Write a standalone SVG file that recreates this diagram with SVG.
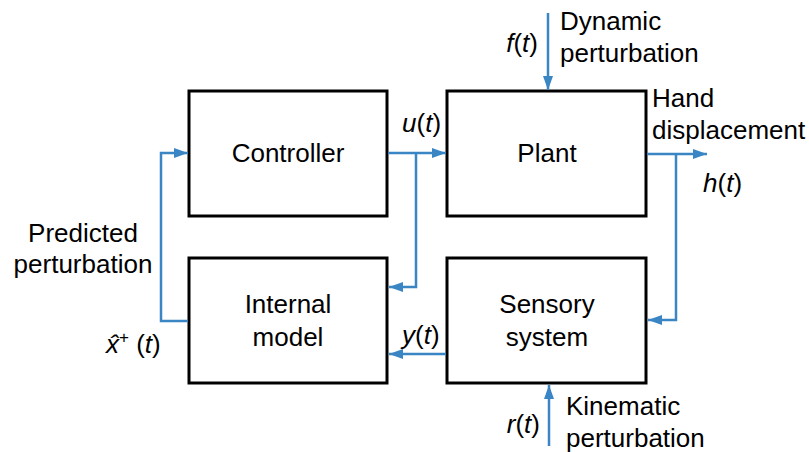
<svg xmlns="http://www.w3.org/2000/svg" width="809" height="452" viewBox="0 0 809 452">
<style>
.box{fill:#fff;stroke:#000;stroke-width:3}
.lbl{font-family:"Liberation Sans",Arial,sans-serif;font-size:26px;fill:#000}
.c{text-anchor:middle}
.e{text-anchor:end}
.i{font-style:italic}
.w{fill:none;stroke:#3a85c4;stroke-width:2.5}
</style>
<defs>
<marker id="ah" viewBox="0 0 14 10" refX="14" refY="5" markerWidth="14" markerHeight="10" markerUnits="userSpaceOnUse" orient="auto">
<path d="M0,0 L14,5 L0,10 Z" fill="#3a85c4"/>
</marker>
</defs>
<rect width="809" height="452" fill="#fff"/>
<g id="controller"><rect class="box" x="189" y="91" width="198" height="125"/><text class="lbl c" x="288" y="162">Controller</text></g>
<g id="plant"><rect class="box" x="447" y="91" width="199" height="125"/><text class="lbl c" x="547" y="162">Plant</text></g>
<g id="internal-model"><rect class="box" x="189" y="258" width="198" height="125"/><text class="lbl c" x="288" y="313">Internal</text><text class="lbl c" x="288" y="346">model</text></g>
<g id="sensory-system"><rect class="box" x="447" y="258" width="199" height="125"/><text class="lbl c" x="547" y="313">Sensory</text><text class="lbl c" x="547" y="346">system</text></g>
<g id="connectors">
<path class="w" d="M548,13 V90" marker-end="url(#ah)"/>
<path class="w" d="M549,446 V385" marker-end="url(#ah)"/>
<path class="w" d="M388,153 H446" marker-end="url(#ah)"/>
<path class="w" d="M416,153 V287 H389" marker-end="url(#ah)"/>
<path class="w" d="M446,354 H389" marker-end="url(#ah)"/>
<path class="w" d="M647,154 H707" marker-end="url(#ah)"/>
<path class="w" d="M676,154 V320 H648" marker-end="url(#ah)"/>
<path class="w" d="M188,321 H161 V153 H188" marker-end="url(#ah)"/>
</g>
<g id="labels">
<text class="lbl" x="560" y="30">Dynamic</text>
<text class="lbl" x="560" y="62">perturbation</text>
<text class="lbl e" x="538" y="52"><tspan class="i">f</tspan>(<tspan class="i">t</tspan>)</text>
<text class="lbl" x="652" y="107">Hand</text>
<text class="lbl" x="652" y="139">displacement</text>
<text class="lbl" x="703" y="192"><tspan class="i">h</tspan>(<tspan class="i">t</tspan>)</text>
<text class="lbl" x="402" y="132"><tspan class="i">u</tspan>(<tspan class="i">t</tspan>)</text>
<text class="lbl" x="402" y="344"><tspan class="i">y</tspan>(<tspan class="i">t</tspan>)</text>
<text class="lbl c" x="83" y="242">Predicted</text>
<text class="lbl c" x="83" y="273">perturbation</text>
<text class="lbl" x="106" y="353"><tspan class="i">x̂</tspan><tspan dy="-10" font-size="17">+</tspan><tspan dy="10"> (</tspan><tspan class="i">t</tspan>)</text>
<text class="lbl e" x="540" y="433"><tspan class="i">r</tspan>(<tspan class="i">t</tspan>)</text>
<text class="lbl" x="566" y="415">Kinematic</text>
<text class="lbl" x="566" y="447">perturbation</text>
</g>
</svg>
